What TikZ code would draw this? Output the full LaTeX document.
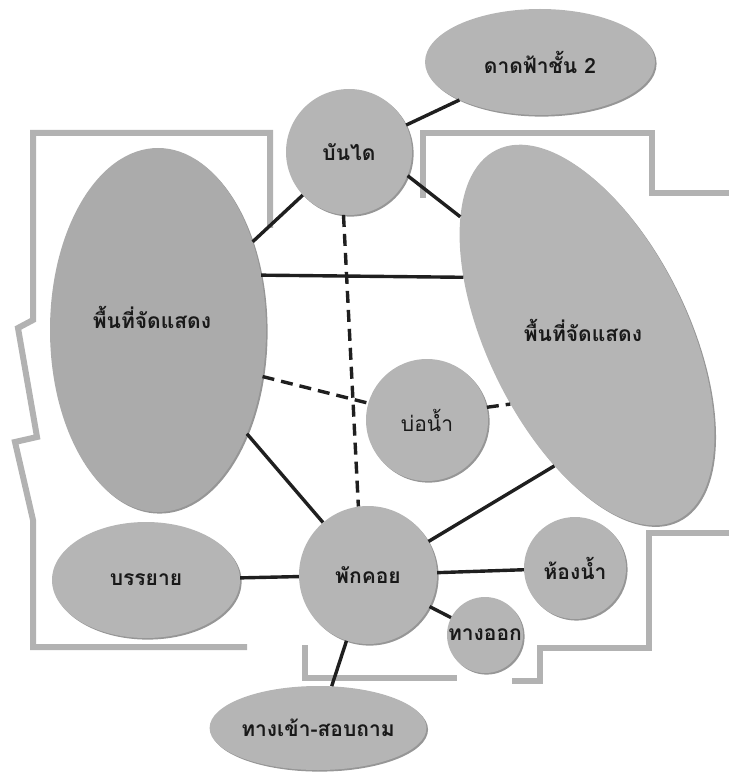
\documentclass[tikz,border=0pt]{standalone}
\usepackage{fontspec}
\newfontfamily\thaifont[Script=Thai]{Loma}
\usetikzlibrary{shapes.geometric,shadows}
\tikzset{
  room/.style={fill=black!29, draw=none, inner sep=0pt,
    drop shadow={shadow xshift=1.6pt, shadow yshift=-1.6pt, opacity=0.55, fill=black!75},
    font=\thaifont\bfseries\fontsize{21}{24}\selectfont, text=black!90},
  oval/.style={room, ellipse},
  ball/.style={room, circle},
  lbl/.style={font=\thaifont\bfseries\fontsize{21}{24}\selectfont, text=black!90},
  link/.style={line width=3.4pt, draw=black!88},
  dlink/.style={link, dash pattern=on 12pt off 7pt},
  wall/.style={line width=6pt, draw=black!30, line join=miter}
}
\begin{document}
\begin{tikzpicture}[x=1pt,y=-1pt]
\useasboundingbox (0,0) rectangle (729,775);
% walls
\draw[wall] (270,228) -- (270,133) -- (33,133) -- (33,320) -- (18,328) -- (37,437) -- (15,442) -- (33,520) -- (33,647) -- (247,647);
\draw[wall] (423,198) -- (423,133) -- (652,133) -- (652,193) -- (729,193);
\draw[wall] (729,533) -- (649,533) -- (649,648) -- (540,648) -- (540,681) -- (512,681);
\draw[wall] (305,645) -- (305,678) -- (457,678);
% rooms
\node[oval, minimum width=230pt, minimum height=106pt] (ddf) at (540,62) {ดาดฟ้าชั้น 2};
\node[ball, minimum size=126pt] (bandai) at (349,152) {บันได};
\node[oval, fill=black!33, minimum width=216pt, minimum height=364pt] (lex) at (158,330) {};
\node[lbl] (lext) at (152,317) {พื้นที่จัดแสดง};
\node[oval, minimum width=200pt, minimum height=412pt, rotate=26] (rex) at (587,335) {};
\node[lbl] (rext) at (583,330) {พื้นที่จัดแสดง};
\node[ball, minimum size=122pt, font=\thaifont\fontsize{21}{24}\selectfont] (bo) at (427,420) {บ่อน้ำ};
\node[ball, minimum size=138pt] (phak) at (368,575) {พักคอย};
\node[ball, minimum size=102pt] (hong) at (575,568) {ห้องน้ำ};
\node[ball, minimum size=76pt] (exit) at (485,635) {ทางออก};
\node[oval, minimum width=188pt, minimum height=116pt] (bry) at (146,580) {บรรยาย};
\node[oval, minimum width=180pt, minimum height=84pt] (ent) at (318,728) {ทางเข้า-สอบถาม};
% connectors
\draw[link] (bandai) -- (ddf);
\draw[link] (bandai) -- (lex);
\draw[link] (bandai.-22) -- (rex.111);
\draw[link] (lex.28) -- (rex.129);
\draw[link] (lex) -- (phak);
\draw[link] (phak.29) -- (rex.230);
\draw[link] (bry) -- (phak);
\draw[link] (phak) -- (hong);
\draw[link] (phak) -- (exit);
\draw[link] (phak) -- (ent);
\draw[dlink] (bandai.265) -- (phak.98);
\draw[dlink] (lex.-24) -- (bo.164);
\draw[dlink] (bo.12) -- (rex.196);
\end{tikzpicture}
\end{document}
